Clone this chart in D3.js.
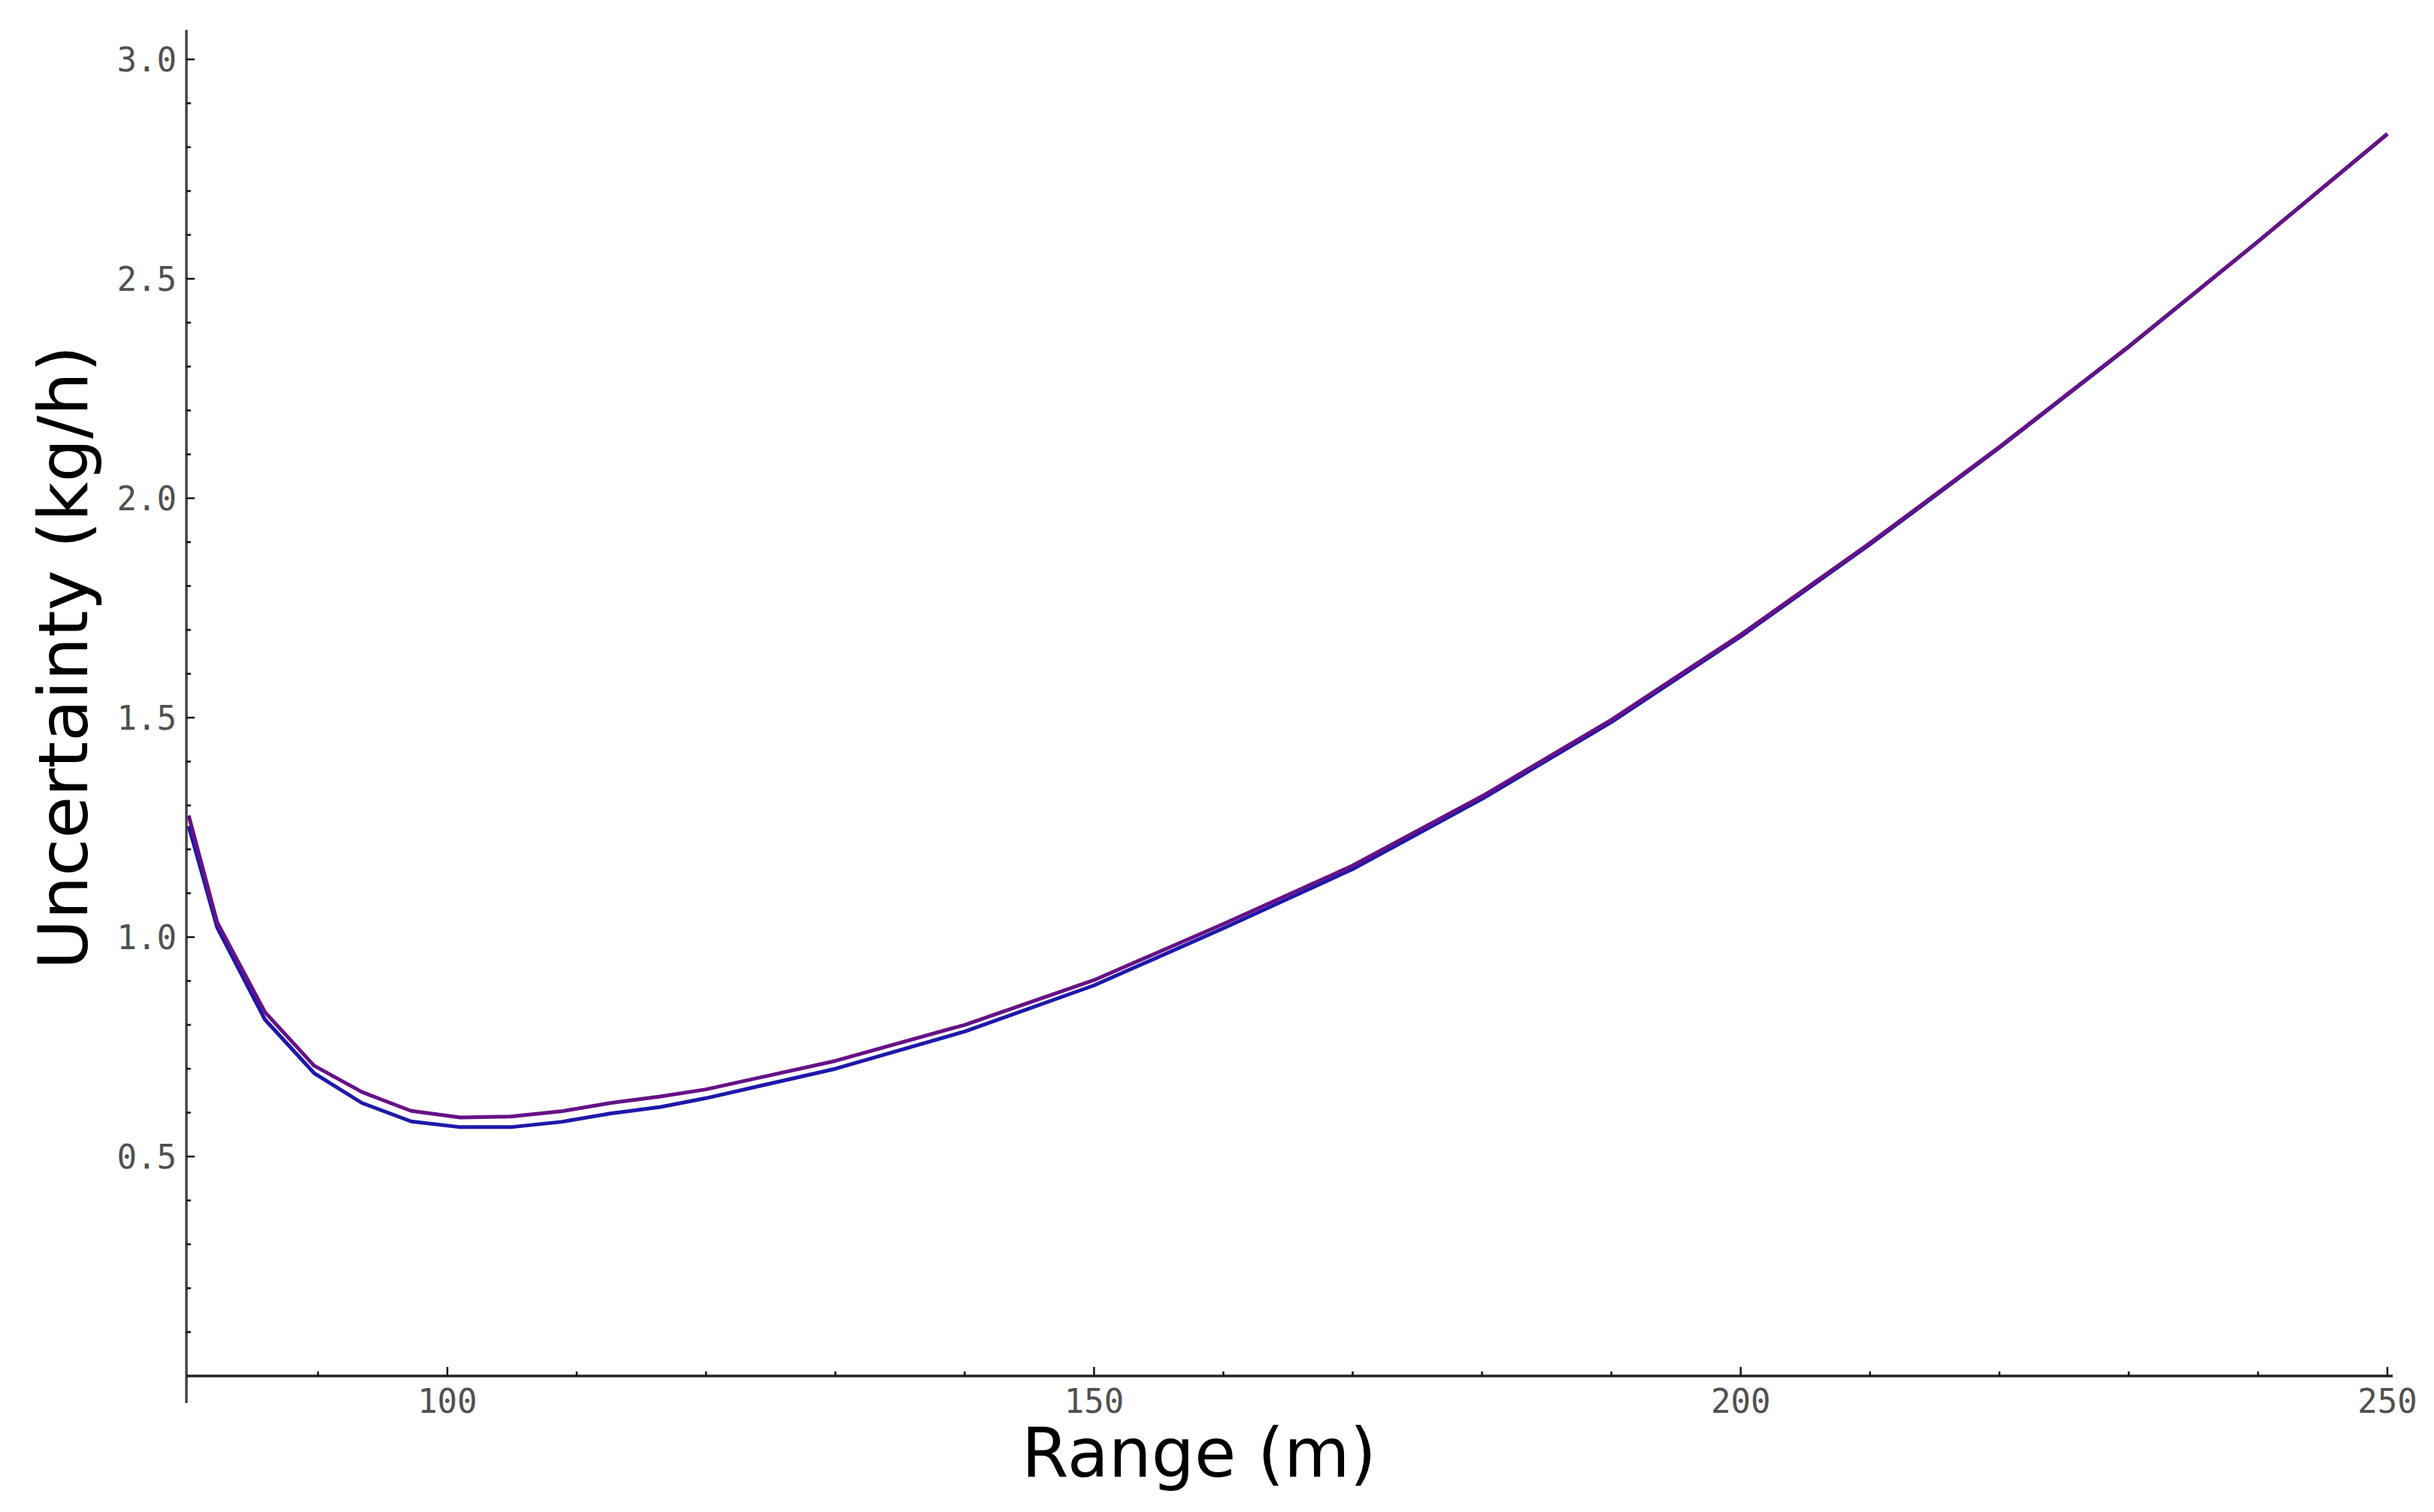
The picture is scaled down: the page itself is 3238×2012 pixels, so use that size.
<!DOCTYPE html>
<html>
<head>
<meta charset="utf-8">
<script src="https://d3js.org/d3.v7.min.js"></script>
<style>
  body { margin: 0; background: #fff; }
  svg { display: block; }
</style>
</head>
<body>
<div id="graph"></div>
<script>
// Range (m) sample points
var range = [80, 82.2, 85.9, 89.7, 93.4, 97.2, 101.0, 104.9, 108.8, 112.6, 116.5,
  120, 130, 140, 150, 160, 170, 180, 190, 200, 210, 220, 230, 240, 250];

// lower (blue) curve
var blueVals = [1.253, 1.022, 0.812, 0.690, 0.622, 0.580, 0.567, 0.567, 0.579, 0.598, 0.613,
  0.633, 0.70, 0.785, 0.89, 1.02, 1.155, 1.315, 1.49, 1.685, 1.895, 2.115, 2.345, 2.585, 2.83];

// upper (purple) curve
var purpleVals = [1.277, 1.034, 0.829, 0.707, 0.647, 0.604, 0.589, 0.591, 0.603, 0.622, 0.637,
  0.653, 0.718, 0.80, 0.902, 1.03, 1.163, 1.321, 1.495, 1.689, 1.898, 2.117, 2.346, 2.585, 2.83];

var xMajor = [100, 150, 200, 250];
var yMajor = [0.5, 1.0, 1.5, 2.0, 2.5, 3.0];
var xTitle = "Range (m)";
var yTitle = "Uncertainty (kg/h)";

var W = 3238, H = 2012;

var svg = d3.select("#graph")
  .append("svg")
  .attr("width", W)
  .attr("height", H);

var x = d3.scaleLinear().domain([80, 250]).range([251, 3176]);
var y = d3.scaleLinear().domain([0, 3]).range([1831, 79]);

var axisX = x(80) - 3;
var monoFont = "'DejaVu Sans Mono', 'Liberation Mono', monospace";

// y axis line (runs a bit past the x axis at the bottom)
svg.append("line")
  .attr("x1", axisX).attr("x2", axisX)
  .attr("y1", y(3.067)).attr("y2", y(0) + 36)
  .attr("stroke", "#444")
  .attr("stroke-width", 3.5);

// y ticks every 0.1, major every 0.5
var yTicks = d3.range(1, 31).map(function(d) { return d / 10; });
svg.append("g").selectAll("line")
  .data(yTicks)
  .enter()
  .append("line")
  .attr("x1", axisX)
  .attr("x2", function(d) { return axisX + (Math.round(d * 10) % 5 === 0 ? 11 : 6); })
  .attr("y1", function(d) { return y(d); })
  .attr("y2", function(d) { return y(d); })
  .attr("stroke", "#111")
  .attr("stroke-width", 2.5);

svg.append("g").selectAll("text")
  .data(yMajor)
  .enter()
  .append("text")
  .attr("x", axisX - 13)
  .attr("y", function(d) { return y(d); })
  .attr("dy", "0.36em")
  .attr("text-anchor", "end")
  .attr("fill", "#505050")
  .style("font-family", monoFont)
  .style("font-size", "44px")
  .text(function(d) { return d.toFixed(1); });

// x axis line
svg.append("line")
  .attr("x1", axisX).attr("x2", x(250) + 7)
  .attr("y1", y(0)).attr("y2", y(0))
  .attr("stroke", "#222")
  .attr("stroke-width", 3.5);

var xTicks = d3.range(90, 251, 10);
svg.append("g").selectAll("line")
  .data(xTicks)
  .enter()
  .append("line")
  .attr("x1", function(d) { return x(d); })
  .attr("x2", function(d) { return x(d); })
  .attr("y1", y(0))
  .attr("y2", function(d) { return y(0) - (d % 50 === 0 ? 12 : 6); })
  .attr("stroke", "#111")
  .attr("stroke-width", 2.5);

svg.append("g").selectAll("text")
  .data(xMajor)
  .enter()
  .append("text")
  .attr("x", function(d) { return x(d); })
  .attr("y", y(0) + 49)
  .attr("text-anchor", "middle")
  .attr("fill", "#505050")
  .style("font-family", monoFont)
  .style("font-size", "44px")
  .text(function(d) { return d; });

// curves
var line = d3.line()
  .x(function(d, i) { return x(range[i]); })
  .y(function(d) { return y(d); });

svg.append("path")
  .datum(blueVals)
  .attr("fill", "none")
  .attr("stroke", "#1e18aa")
  .attr("stroke-width", 5)
  .attr("stroke-linejoin", "round")
  .attr("d", line);

svg.append("path")
  .datum(purpleVals)
  .attr("fill", "none")
  .attr("stroke", "#661286")
  .attr("stroke-width", 5)
  .attr("stroke-linejoin", "round")
  .attr("d", line);

// axis titles
svg.append("text")
  .attr("x", 1595)
  .attr("y", 1965)
  .attr("text-anchor", "middle")
  .attr("fill", "#000")
  .style("font-family", "'DejaVu Sans', Verdana, sans-serif")
  .style("font-size", "90px")
  .text(xTitle);

svg.append("text")
  .attr("transform", "translate(116,875) rotate(-90)")
  .attr("text-anchor", "middle")
  .attr("fill", "#000")
  .style("font-family", "'DejaVu Sans', Verdana, sans-serif")
  .style("font-size", "91px")
  .text(yTitle);
</script>
</body>
</html>
